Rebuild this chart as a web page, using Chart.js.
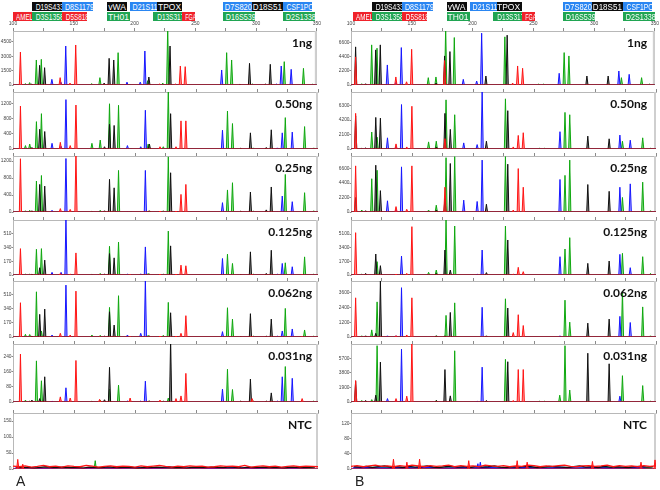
<!DOCTYPE html>
<html>
<head>
<meta charset="utf-8">
<script src="https://cdn.jsdelivr.net/npm/chart.js@4.4.1/dist/chart.umd.min.js"></script>
<style>
body{margin:0;background:#fff;width:660px;height:490px;position:relative;overflow:hidden}
canvas{position:absolute}
.loc{position:absolute;height:9px;line-height:9px;font:8.5px "Liberation Sans",sans-serif;color:#fff;text-align:center;white-space:nowrap;overflow:visible}
.loc span{display:inline-block;transform-origin:50% 50%}
.amt{position:absolute;width:80px;text-align:right;font:bold 12px Lato,sans-serif;line-height:14px;color:#111}
.col{position:absolute;font:14px "Liberation Sans",sans-serif;color:#222}
</style>
</head>
<body>
<script>
// panel names, one row per amount of DNA
const panels = ["1ng", "0.50ng", "0.25ng", "0.125ng", "0.062ng", "0.031ng", "NTC"];

// y axis tick labels and top of the scale, column A then column B
const aTicks = [[0, 1500, 3000, 4500], [0, 400, 800, 1200], [0, 400, 800, 1200], [0, 170, 340, 510],
                [0, 170, 340, 510], [0, 80, 160, 240], [0, 50, 100, 150]];
const aYMax  = [5650, 1500, 1320, 680, 670, 306, 175];
const bTicks = [[0, 2200, 4400, 6600], [0, 2100, 4200, 6300], [0, 2200, 4400, 6600], [0, 1700, 3400, 5100],
                [0, 1200, 2400, 3600], [0, 1900, 3800, 5700], [0, 40, 80, 120]];
const bYMax  = [8400, 8270, 8500, 6850, 4560, 7560, 148];
// size axis (bp) tick labels
const xTicks = [100, 150, 200, 250, 300, 350];

// ---- column A: peak sizes (bp) per dye, heights (RFU) per panel 1ng..0.031ng
const aRedBp = [106.1, 138.8, 146.9, 151.6, 171.0, 196.0, 220.5, 233.6, 237.7, 241.7, 296.0, 337.0];
const aRedH = [
  [3450, 770, 200, 4186, 0, 0, 100, 100, 1988, 1919, 0, 0],
  [1130, 175, 90, 1157, 0, 0, 60, 60, 740, 740, 0, 0],
  [1255, 80, 60, 1400, 0, 0, 20, 20, 415, 650, 0, 0],
  [326, 20, 10, 273, 5, 5, 10, 10, 122, 114, 5, 5],
  [410, 44, 24, 549, 5, 5, 10, 10, 44, 255, 5, 5],
  [253, 27, 21, 219, 14, 21, 10, 18, 32, 151, 18, 18]
];
const aGreenBp = [110.2, 113.7, 119.2, 123.3, 164.7, 171.5, 179.1, 186.5, 210.8, 223.2, 227.3, 275.8, 279.9, 297.0, 323.2, 339.0, 346.5];
const aGreenH = [
  [150, 250, 2616, 2686, 150, 770, 0, 3383, 450, 200, 6000, 3383, 2616, 100, 2442, 1744, 80],
  [90, 130, 720, 930, 150, 235, 1190, 1150, 130, 60, 1600, 1000, 670, 30, 826, 590, 30],
  [30, 40, 730, 860, 20, 40, 0, 980, 20, 30, 1300, 520, 690, 20, 885, 455, 30],
  [10, 10, 318, 326, 10, 20, 355, 408, 20, 10, 543, 257, 143, 10, 151, 224, 10],
  [32, 30, 541, 72, 24, 20, 354, 494, 20, 20, 414, 350, 215, 10, 342, 84, 10],
  [10, 5, 217, 112, 5, 10, 68, 89, 5, 5, 21, 173, 66, 5, 187, 0, 5]
];
const aBlackBp = [115.5, 121.9, 126.0, 175.0, 179.1, 182.9, 211.8, 229.2, 286.7, 294.6, 307.6, 311.7];
const aBlackH = [
  [100, 2058, 1814, 200, 2790, 2616, 837, 4080, 60, 2267, 100, 2163],
  [40, 520, 460, 60, 650, 620, 130, 930, 20, 425, 40, 505],
  [30, 650, 610, 30, 770, 570, 30, 925, 20, 470, 50, 590],
  [10, 90, 184, 10, 265, 212, 10, 360, 5, 286, 20, 306],
  [10, 271, 334, 10, 302, 143, 10, 290, 5, 279, 10, 215],
  [10, 18, 133, 12, 183, 0, 5, 330, 5, 121, 5, 48]
];
const aBlueBp = [132.0, 139.4, 143.4, 193.8, 204.7, 208.5, 271.7, 316.7, 320.7, 328.9];
const aBlueH = [
  [593, 300, 4080, 300, 300, 3558, 1570, 100, 1988, 1640],
  [150, 70, 1300, 90, 60, 1020, 495, 30, 425, 445],
  [40, 20, 1260, 10, 10, 980, 220, 10, 376, 243],
  [33, 33, 700, 10, 15, 347, 204, 10, 143, 102],
  [24, 10, 621, 24, 44, 700, 64, 10, 72, 96],
  [5, 5, 75, 5, 5, 110, 68, 5, 133, 125]
];
// column A, NTC: spikes and baseline noise
const aNtcRedBp = [103.9, 108.0];
const aNtcRedH = [30, 15];
const aNtcGreenBp = [167.4];
const aNtcGreenH = [26];
const aNtcRedNoise = [9,7,10,6,8,11,7,9,6,10,8,7,11,9,6,8,10,7,9,8,6,10,7,9,11,8,6,9,7,10,8,9,6,7,10,8,9,7,11,6,8,10,7,9,6,8,10,7,9,8,7];
const aNtcBlackNoise = [5,4,6,3,5,7,4,5,6,4,5,3,6,5,4,7,5,4,6,5,3,5,4,6,5,7,4,5,3,6,5,4,6,5,4,7,5,3,6,4,5,6,4,5,3,6,5,4,5,6];
const aNtcBlueNoise = [3,4,2,3,5,3,2,4,3,3,4,2,3,5,3,4,2,3,4,3,2,4,3,3,4];
const aNtcGreenNoise = [2,3,2,4,3,2,3,2,3,4,2,3,2,3,2,4,3,2,3,2,3,2,4,3,2];

// ---- column B
const bRedBp = [103.8, 136.9, 145.7, 149.9, 177.0, 233.0, 237.1, 241.2];
const bRedH = [
  [4370, 1250, 500, 5560, 3800, 300, 2960, 2600],
  [5170, 740, 300, 6200, 1500, 300, 1970, 2360],
  [7000, 820, 410, 7000, 3760, 300, 6590, 3760],
  [5270, 100, 200, 6020, 0, 100, 955, 415],
  [3190, 110, 165, 3190, 0, 360, 1815, 935],
  [2800, 445, 760, 8000, 0, 200, 4230, 4230]
];
const bGreenBp = [108.8, 117.0, 121.4, 163.6, 169.9, 177.9, 185.0, 226.6, 254.5, 258.6, 271.1, 275.4, 279.3, 322.5, 339.1, 345.5];
const bGreenH = [
  [200, 6240, 5720, 1140, 1250, 9000, 7380, 7490, 150, 150, 0, 5040, 4520, 1140, 1140, 150],
  [100, 2460, 1720, 1030, 1130, 7130, 4970, 7280, 100, 100, 0, 5310, 4970, 1130, 1620, 100],
  [300, 5050, 6330, 300, 1030, 8240, 8400, 8400, 0, 0, 0, 5560, 7880, 2210, 4530, 200],
  [100, 0, 1660, 330, 620, 6900, 6100, 6100, 0, 0, 0, 3240, 4650, 2700, 2280, 200],
  [100, 580, 2860, 0, 100, 1760, 2780, 3110, 0, 0, 0, 3000, 1210, 3740, 2450, 100],
  [200, 310, 7340, 0, 200, 0, 6675, 5560, 100, 100, 890, 7340, 1560, 3430, 2140, 100]
];
const bBlackBp = [103.8, 112.0, 120.3, 124.1, 170.0, 177.0, 181.4, 211.0, 228.5, 294.1, 311.6];
const bBlackH = [
  [5930, 200, 5460, 6240, 300, 4520, 5200, 1400, 7750, 1400, 1400],
  [4820, 150, 4580, 4480, 300, 5170, 2850, 1130, 5560, 1870, 1480],
  [2200, 200, 7100, 3240, 300, 2060, 7360, 1180, 7260, 4170, 3140],
  [0, 200, 2615, 1160, 200, 3110, 620, 300, 4360, 1450, 1740],
  [0, 100, 300, 4600, 100, 100, 2000, 100, 2360, 1130, 1460],
  [2700, 200, 890, 5200, 200, 4230, 800, 200, 5250, 6360, 4980]
];
const bBlueBp = [129.9, 136.9, 141.4, 192.4, 203.4, 207.5, 271.3, 320.4, 328.9];
const bBlueH = [
  [3120, 400, 5820, 880, 620, 8060, 1820, 2180, 1660],
  [1620, 300, 6450, 885, 640, 8400, 2510, 2020, 1280],
  [1700, 300, 6850, 1800, 1600, 7880, 4940, 3760, 4270],
  [0, 100, 2365, 0, 100, 3110, 2280, 2570, 910],
  [100, 100, 4015, 0, 0, 2420, 100, 1680, 1180],
  [445, 200, 6900, 0, 100, 4540, 0, 760, 0]
];
const bNtcRedBp = [134.8, 145.8, 156.2, 196.5, 236.2, 244.4, 297.9, 337.7, 349.2];
const bNtcRedH = [26, 18, 26, 22, 22, 18, 20, 18, 24];
const bNtcBlueBp = [204.0, 206.0];
const bNtcBlueH = [14, 18];
const bNtcGreenBp = [];
const bNtcGreenH = [];
const bNtcRedNoise = [7,9,6,8,10,7,8,6,9,7,10,8,6,9,7,8,10,6,9,7,8,6,10,8,7,9,6,8,7,10,9,6,8,7,9,10,7,6,8,9,7,8,10,6,9,7,8,6,9,7,8];
const bNtcBlackNoise = [6,5,7,4,6,8,5,6,4,7,5,6,8,5,4,6,7,5,6,4,7,5,6,8,5,4,6,5,7,6,4,5,7,6,5,4,6,8,5,6,4,7,5,6,5,4,6,7,5,6];
const bNtcBlueNoise = [3,4,3,2,4,3,5,3,2,4,3,4,2,3,4,3,2,4,3,3,4,2,3,4,3];
const bNtcGreenNoise = [3,2,4,3,2,3,4,2,3,3,2,4,3,2,3,4,2,3,2,3,4,3,2,3,2];

// locus names over the plots: [name, dye, row]
const loci = [
  ["D19S433", "black", 0], ["D8S1179", "blue", 0], ["vWA", "black", 0], ["D21S11", "blue", 0],
  ["TPOX", "black", 0], ["D7S820", "blue", 0], ["D18S51", "black", 0], ["CSF1PO", "blue", 0],
  ["AMEL", "red", 1], ["D3S1358", "green", 1], ["D5S818", "red", 1], ["TH01", "green", 1],
  ["D13S317", "green", 1], ["FGA", "red", 1], ["D16S539", "green", 1], ["D2S1338", "green", 1]
];
// box left / width (px) for each locus label in column A
const locBox = [[32,30],[62,31],[107,20],[130,27],[157,25],[223,29],[252,31],[283,29],
                [13,19],[32,30],[62,25],[107,23],[153,29],[182,13],[223,32],[283,32]];
const boxColor = {black: "#0d0d0d", blue: "#2a86f2", green: "#20a552", red: "#f0222a"};

// layout
const TOPS = [31, 92, 156, 220, 281, 344, 413];
const BOTS = [85, 149, 212, 275, 337, 402, 469];
const X_MIN = 100, X_MAX = 350, HW = 0.9;
const DYE = {
  red:   {line: "#ff1414", fill: "rgba(255,70,70,0.55)", order: 0},
  black: {line: "#111111", fill: "rgba(60,60,60,0.6)", order: 1},
  blue:  {line: "#1616ff", fill: "rgba(70,70,255,0.5)", order: 2},
  green: {line: "#10a810", fill: "rgba(50,195,50,0.55)", order: 3}
};

function spikes(bp, h) {
  const pairs = bp.map((b, i) => [b, h[i]]).sort((p, q) => p[0] - q[0]);
  const pts = [{x: X_MIN, y: 0}];
  for (const [b, v] of pairs) pts.push({x: b - HW, y: 0}, {x: b, y: v}, {x: b + HW, y: 0});
  pts.push({x: X_MAX, y: 0});
  return pts;
}
function noise(vals, start, step) {
  return vals.map((v, i) => ({x: start + i * step, y: v}));
}
function peakSet(dye, pts) {
  const d = DYE[dye];
  return {data: pts, borderColor: d.line, backgroundColor: d.fill, fill: "origin",
          borderWidth: 1, order: d.order, pointRadius: 0};
}
function noiseSet(dye, pts) {
  const d = DYE[dye];
  return {data: pts, borderColor: d.line, fill: false, borderWidth: 1.3, order: d.order, pointRadius: 0};
}

const frame = {
  id: "frame",
  beforeDatasetsDraw(c) {
    const a = c.chartArea, g = c.ctx;
    g.save();
    g.strokeStyle = "#b8b8b8"; g.lineWidth = 1;
    g.strokeRect(a.left + 0.5, a.top + 0.5, a.width - 1, a.height - 1);
    g.strokeStyle = "#cfcfcf"; g.lineWidth = 2;
    g.beginPath(); g.moveTo(a.right - 1, a.top); g.lineTo(a.right - 1, a.bottom); g.stroke();
    g.restore();
  }
};

function addPanel(left, k, yMax, yTicks, datasets) {
  const topH = k === 0 ? 12 : 4;
  const cv = document.createElement("canvas");
  cv.width = 322;
  cv.height = topH + (BOTS[k] - TOPS[k]) + 4;
  cv.style.left = left + "px";
  cv.style.top = (TOPS[k] - topH) + "px";
  document.body.appendChild(cv);
  new Chart(cv, {
    type: "line",
    data: {datasets: datasets},
    plugins: [frame],
    options: {
      responsive: false, animation: false, devicePixelRatio: 1,
      layout: {padding: {left: 0, right: 4, top: 0, bottom: 4}},
      plugins: {legend: {display: false}, tooltip: {enabled: false}},
      elements: {line: {tension: 0}, point: {radius: 0}},
      scales: {
        x: {
          type: "linear", position: "top", min: X_MIN, max: X_MAX,
          ticks: {stepSize: 25, autoSkip: false, maxRotation: 0, padding: 1,
                  font: {size: 5, family: "Liberation Sans"}, color: "#444",
                  callback: v => (k === 0 && xTicks.includes(v)) ? String(v) : ""},
          grid: {drawOnChartArea: false, tickLength: 3, color: "#8a8a8a"},
          border: {color: "#b8b8b8"},
          afterFit: s => { s.height = topH; }
        },
        y: {
          min: 0, max: yMax,
          ticks: {padding: 0, autoSkip: false, font: {size: 4.8, family: "Liberation Sans"}, color: "#444",
                  callback: v => String(v)},
          grid: {drawOnChartArea: false, tickLength: 1.5, color: "#8a8a8a"},
          border: {color: "#b8b8b8"},
          afterBuildTicks: s => { s.ticks = yTicks.map(v => ({value: v})); },
          afterFit: s => { s.width = 13; }
        }
      }
    }
  });
}

function addText(cls, txt, left, top, extra) {
  const d = document.createElement("div");
  d.className = cls;
  d.style.left = left + "px";
  d.style.top = top + "px";
  if (extra) Object.assign(d.style, extra);
  const s = document.createElement("span");
  s.textContent = txt;
  d.appendChild(s);
  document.body.appendChild(d);
  return d;
}

const columns = [
  {left: 0, shift: 0, label: "A", ticks: aTicks, max: aYMax,
   red: [aRedBp, aRedH], green: [aGreenBp, aGreenH], black: [aBlackBp, aBlackH], blue: [aBlueBp, aBlueH],
   ntc: {red: [aNtcRedBp, aNtcRedH], green: [aNtcGreenBp, aNtcGreenH], blue: [[], []],
         noise: {red: aNtcRedNoise, black: aNtcBlackNoise, blue: aNtcBlueNoise, green: aNtcGreenNoise}}},
  {left: 338, shift: 339.5, label: "B", ticks: bTicks, max: bYMax,
   red: [bRedBp, bRedH], green: [bGreenBp, bGreenH], black: [bBlackBp, bBlackH], blue: [bBlueBp, bBlueH],
   ntc: {red: [bNtcRedBp, bNtcRedH], green: [bNtcGreenBp, bNtcGreenH], blue: [bNtcBlueBp, bNtcBlueH],
         noise: {red: bNtcRedNoise, black: bNtcBlackNoise, blue: bNtcBlueNoise, green: bNtcGreenNoise}}}
];

for (const col of columns) {
  // locus boxes, text squeezed to fit its box
  loci.forEach(([name, dye, row], i) => {
    const w = locBox[i][1];
    const d = addText("loc", name, locBox[i][0] + col.shift, row === 0 ? 2 : 12,
                      {width: w + "px", background: boxColor[dye]});
    const s = d.firstChild, tw = s.getBoundingClientRect().width;
    if (tw > w - 2) s.style.transform = "scaleX(" + ((w - 2) / tw).toFixed(3) + ")";
  });
  for (let k = 0; k < panels.length; k++) {
    let sets;
    if (k < 6) {
      sets = ["red", "black", "blue", "green"].map(d => peakSet(d, spikes(col[d][0], col[d][1][k])));
    } else {
      const n = col.ntc;
      sets = [
        noiseSet("red", noise(n.noise.red, 100, 5)),
        noiseSet("black", noise(n.noise.black, 102.5, 5)),
        noiseSet("blue", noise(n.noise.blue, 101.5, 10)),
        noiseSet("green", noise(n.noise.green, 106.5, 10)),
        peakSet("red", spikes(n.red[0], n.red[1])),
        peakSet("blue", spikes(n.blue[0], n.blue[1])),
        peakSet("green", spikes(n.green[0], n.green[1]))
      ];
    }
    addPanel(col.left, k, col.max[k], col.ticks[k], sets);
    addText("amt", panels[k], col.left + 312 - 80 + (col.shift ? -3 : 0), TOPS[k] + 5);
  }
  addText("col", col.label, col.left + 16 + (col.shift ? 1 : 0), 473);
}
</script>
</body>
</html>
